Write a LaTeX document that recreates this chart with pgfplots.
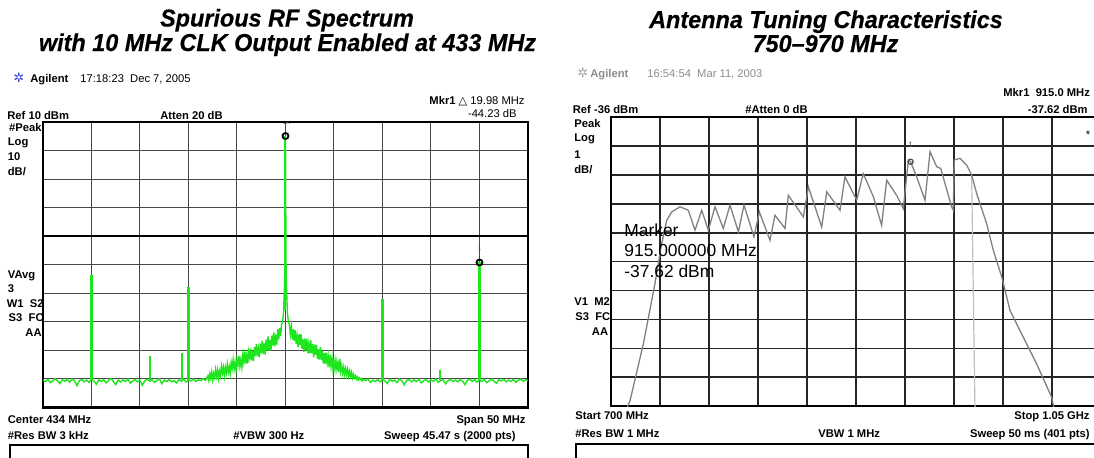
\documentclass[border=0pt]{standalone}
\usepackage{fontspec}
\setmainfont{Liberation Sans}
\newfontfamily\titlefont[FakeStretch=0.96, BoldItalicFeatures={FakeBold=0.4}]{Liberation Sans}
\newfontfamily\symfont{DejaVu Sans}
\usepackage{pgfplots}
\pgfplotsset{compat=1.18}
\definecolor{trace}{RGB}{30,230,30}
\definecolor{logoblue}{RGB}{60,70,220}
\newcommand\sm{\fontsize{5.6}{6.5}\selectfont}
\newcommand\lab[4][base west]{\node[anchor=#1, inner sep=0pt, font=\sm] at ({#2*0.5pt},{(457-#3)*0.5pt}) {#4};}
\newcommand\ttl[3]{\node[anchor=base, inner sep=0pt, font=\titlefont\fontsize{12.2}{14}\selectfont\bfseries\itshape] at ({#1*0.5pt},{(457-#2)*0.5pt}) {#3};}

\pgfplotstableread{
x y
409.00 -80.4
409.25 -80.9
409.50 -80.2
409.75 -81.3
410.00 -80.6
410.25 -79.9
410.50 -80.7
410.75 -81.6
411.00 -80.3
411.25 -80.8
411.50 -80.1
411.75 -81.1
412.00 -80.0
412.25 -80.6
412.50 -82.4
412.75 -80.5
413.00 -80.2
413.25 -81.0
413.50 -80.4
413.75 -81.2
414.00 -80.1
414.25 -80.7
414.50 -81.9
414.75 -80.3
415.00 -80.9
415.25 -80.2
415.50 -81.4
415.75 -80.6
416.00 -79.8
416.25 -80.8
416.50 -82.0
416.75 -80.4
417.00 -81.1
417.25 -80.3
417.50 -80.9
417.75 -80.0
418.00 -81.5
418.25 -80.7
418.50 -80.2
418.75 -81.0
419.00 -80.5
419.25 -82.2
419.50 -80.6
419.75 -80.1
420.00 -80.8
420.25 -80.3
420.50 -81.2
420.75 -80.5
421.00 -80.0
421.25 -81.7
421.50 -80.4
421.75 -80.9
422.00 -80.2
422.25 -81.0
422.50 -80.6
422.75 -81.4
423.00 -80.3
423.25 -80.8
423.50 -80.1
423.75 -81.1
424.00 -80.4
424.25 -80.7
424.50 -80.0
424.75 -80.9
425.00 -80.3
425.25 -80.6
425.50 -79.9
425.75 -80.5
426.0 -78.9
426.1 -80.6
426.2 -78.2
426.3 -79.8
426.4 -77.5
426.5 -80.3
426.6 -78.1
426.7 -79.5
426.8 -76.7
426.9 -79.1
427.0 -76.9
427.1 -79.7
427.2 -77.3
427.3 -78.9
427.4 -75.5
427.5 -77.9
427.6 -75.9
427.7 -79.0
427.8 -76.0
427.9 -77.8
428.0 -74.8
428.1 -77.7
428.2 -75.8
428.3 -78.1
428.4 -74.2
428.5 -76.3
428.6 -73.3
428.7 -76.7
428.8 -74.2
428.9 -76.8
429.0 -73.2
429.1 -75.2
429.2 -71.9
429.3 -75.6
429.4 -73.2
429.5 -75.9
429.6 -71.5
429.7 -74.1
429.8 -70.4
429.9 -74.6
430.0 -71.6
430.1 -74.6
430.2 -70.5
430.3 -72.6
430.4 -69.3
430.5 -73.5
430.6 -70.2
430.7 -73.7
430.8 -68.9
430.9 -71.9
431.0 -67.8
431.1 -72.1
431.2 -69.3
431.3 -72.4
431.4 -67.6
431.5 -70.9
431.6 -66.7
431.7 -71.3
431.8 -67.6
431.9 -71.5
432.0 -66.2
432.1 -69.9
432.2 -65.1
432.3 -70.2
432.4 -66.3
432.5 -70.0
432.6 -64.8
432.7 -68.3
432.8 -63.7
432.9 -68.6
433.0 -64.4
433.1 -68.0
433.2 -62.6
433.3 -66.2
433.4 -62.1
433.5 -65.0
433.6 -60.8
433.7 -60.2
433.8 -56.5
433.85 -52.0
433.9 -47.0
433.95 -38.0
434.0 5.1
434.05 -38.5
434.1 -47.5
434.15 -52.5
434.2 -56.8
434.3 -60.1
434.4 -61.0
434.5 -64.4
434.6 -61.7
434.7 -66.2
434.8 -62.5
434.9 -66.6
435.0 -62.9
435.1 -67.8
435.2 -64.9
435.3 -68.9
435.4 -64.2
435.5 -68.1
435.6 -64.3
435.7 -69.4
435.8 -66.0
435.9 -70.6
436.0 -65.8
436.1 -69.9
436.2 -65.9
436.3 -71.0
436.4 -67.8
436.5 -71.0
436.6 -66.4
436.7 -70.9
436.8 -67.7
436.9 -72.4
437.0 -67.9
437.1 -71.5
437.2 -68.1
437.3 -73.0
437.4 -69.6
437.5 -73.2
437.6 -68.9
437.7 -73.4
437.8 -70.2
437.9 -74.6
438.0 -71.0
438.1 -74.7
438.2 -70.8
438.3 -74.4
438.4 -71.9
438.5 -75.9
438.6 -71.6
438.7 -75.6
438.8 -72.8
438.9 -76.6
439.0 -73.8
439.1 -76.7
439.2 -73.4
439.3 -76.6
439.4 -74.4
439.5 -77.6
439.6 -73.0
439.7 -77.3
439.8 -75.3
439.9 -78.2
440.0 -76.0
440.1 -78.4
440.2 -76.3
440.3 -78.4
440.4 -76.6
440.5 -79.0
440.6 -77.3
440.7 -79.1
440.8 -77.6
440.9 -79.7
441.0 -78.4
441.1 -79.6
441.2 -78.9
441.3 -80.1
441.4 -79.3
441.5 -80.4
441.6 -79.6
441.7 -80.2
441.8 -79.8
441.9 -80.7
442.0 -80.1
442.25 -80.6
442.50 -80.0
442.75 -81.2
443.00 -80.4
443.25 -80.9
443.50 -80.2
443.75 -81.0
444.00 -80.3
444.25 -80.7
444.50 -81.6
444.75 -80.1
445.00 -80.8
445.25 -80.4
445.50 -81.3
445.75 -80.0
446.00 -80.6
446.25 -82.1
446.50 -80.5
446.75 -80.2
447.00 -81.0
447.25 -80.3
447.50 -80.9
447.75 -80.1
448.00 -81.4
448.25 -80.6
448.50 -80.2
448.75 -81.1
449.00 -80.4
449.25 -80.8
449.50 -80.0
449.75 -81.2
450.00 -80.5
450.25 -80.3
450.50 -81.7
450.75 -80.6
451.00 -80.1
451.25 -80.9
451.50 -80.4
451.75 -81.0
452.00 -80.2
452.25 -80.7
452.50 -82.0
452.75 -80.5
453.00 -80.1
453.25 -80.8
453.50 -80.3
453.75 -81.1
454.00 -80.4
454.25 -80.9
454.50 -80.2
454.75 -81.3
455.00 -80.6
455.25 -80.0
455.50 -80.8
455.75 -81.5
456.00 -80.3
456.25 -80.7
456.50 -80.1
456.75 -81.0
457.00 -80.4
457.25 -80.9
457.50 -80.2
457.75 -81.2
458.00 -80.5
458.25 -80.0
458.50 -80.8
458.75 -80.3
459.00 -80.6
}\spurious

\pgfplotstableread{
x y
711.0 -46.1
713.6 -45.82
723.1 -43.85
731.4 -41.76
736.2 -40.38
739.8 -39.57
743.3 -39.28
749.3 -39.10
755.2 -39.22
760.0 -39.91
764.8 -39.22
769.5 -39.91
774.3 -39.10
780.2 -39.85
785.0 -39.04
791.0 -39.97
795.0 -39.04
802.1 -40.14
806.0 -39.28
813.6 -40.26
817.1 -39.39
824.3 -39.85
826.7 -38.70
837.4 -39.45
841.0 -38.41
850.5 -39.80
854.1 -38.58
863.6 -39.22
867.1 -38.06
875.5 -38.87
880.2 -37.95
887.4 -38.75
893.3 -39.74
896.9 -38.18
904.0 -38.70
908.8 -39.16
912.4 -37.48
914.0 -37.54
918.3 -38.06
924.3 -38.87
927.9 -37.19
932.6 -37.71
935.5 -37.77
943.3 -39.10
944.5 -39.22
945.2 -37.48
949.3 -37.42
954.1 -37.66
957.6 -38.00
961.2 -38.64
968.3 -39.68
973.1 -40.61
979.1 -41.53
985.0 -42.69
994.5 -43.62
1004.0 -44.54
1014.8 -45.70
1016.5 -46.1
}\tuning

\begin{document}
\begin{tikzpicture}
\useasboundingbox (0,0) rectangle (547pt,228.5pt);
\clip (0,0) rectangle (547pt,228.5pt);

% ---------------- left panel ----------------
\ttl{287}{26.5}{Spurious RF Spectrum}
\ttl{287.5}{51}{with 10 MHz CLK Output Enabled at 433 MHz}

\node[anchor=base west, inner sep=0pt, font=\symfont\fontsize{6.5}{7}\selectfont, text=logoblue] at ({13*0.5pt},{(457-82)*0.5pt}) {✲};
\lab{30}{82}{\bfseries Agilent}
\lab{80}{82}{17:18:23\ \ Dec 7, 2005}
\lab[base east]{525}{104}{\bfseries Mkr1 \mdseries{\symfont△} 19.98 MHz}
\lab{7}{119}{\bfseries Ref 10 dBm}
\lab{160}{119}{\bfseries Atten 20 dB}
\lab[base east]{517}{117}{-44.23 dB}
\lab[base east]{42}{131.5}{\bfseries \#Peak}
\lab{7.5}{145.5}{\bfseries Log}
\lab{7.5}{160.5}{\bfseries 10}
\lab{7.5}{175}{\bfseries dB/}
\lab{7.5}{278}{\bfseries VAvg}
\lab{7.5}{292.5}{\bfseries 3}
\lab[base east]{44}{307}{\bfseries W1\ \ S2}
\lab[base east]{44}{321.5}{\bfseries S3\ \ FC}
\lab[base east]{42}{336}{\bfseries AA}
\lab{7.5}{423}{\bfseries Center 434 MHz}
\lab[base east]{526}{423}{\bfseries Span 50 MHz}
\lab{7.5}{439}{\bfseries \#Res BW 3 kHz}
\lab{233}{439}{\bfseries \#VBW 300 Hz}
\lab[base east]{516}{439}{\bfseries Sweep 45.47 s (2000 pts)}
\draw[black, line width=0.8pt] ({10*0.5pt},{(457-445)*0.5pt}) rectangle ({528*0.5pt},-10pt);

\begin{axis}[at={(21.5pt,24.75pt)}, anchor=south west, scale only axis,
  width=242.5pt, height=142.75pt,
  xmin=409, xmax=459, ymin=-90, ymax=10,
  xtick={409,414,...,459}, ytick={-90,-80,...,10},
  xticklabels={}, yticklabels={}, major tick length=0pt,
  grid=major, major grid style={black!72, line width=0.5pt},
  axis line style={black, line width=1.1pt}]
\addplot[black, line width=0.75pt] coordinates {(409,-30) (459,-30)};
\addplot[trace, line width=0.7pt] table {\spurious};
\addplot[trace, line width=1.15pt] coordinates {(414,-80.3) (414,-43.7)};
\addplot[trace, line width=1.0pt] coordinates {(420,-80.4) (420,-72.0)};
\addplot[trace, line width=1.0pt] coordinates {(423.3,-80.4) (423.3,-71.0)};
\addplot[trace, line width=1.15pt] coordinates {(424,-80.3) (424,-47.8)};
\addplot[trace, line width=1.15pt] coordinates {(444,-80.3) (444,-51.9)};
\addplot[trace, line width=1.0pt] coordinates {(449.9,-80.4) (449.9,-77.0)};
\addplot[trace, line width=1.15pt] coordinates {(454,-80.4) (454,-39.2)};
\addplot[trace, line width=1.0pt] coordinates {(434,-56) (434,5.1)};
\addplot[only marks, mark=o, mark size=1.5pt, black, line width=0.9pt] coordinates {(434,5.1) (454,-39.2)};
\node[font=\fontsize{3}{3}\selectfont, text=black!70, anchor=south] at (axis cs:434.1,6.5) {1R};
\node[font=\fontsize{3}{3}\selectfont, text=black!70, anchor=south] at (axis cs:454,-37.6) {1};
\end{axis}

% ---------------- right panel ----------------
\ttl{826}{28}{Antenna Tuning Characteristics}
\ttl{825.5}{52}{750–970 MHz}

\node[anchor=base west, inner sep=0pt, font=\symfont\fontsize{6.5}{7}\selectfont, text=black!35] at ({577*0.5pt},{(457-77)*0.5pt}) {✲};
\lab{590}{77}{\color{black!45}\bfseries Agilent}
\lab{647}{77}{\color{black!45}16:54:54\ \ Mar 11, 2003}
\lab{1003}{96}{\bfseries Mkr1\ \ 915.0 MHz}
\lab{572.5}{113}{\bfseries Ref -36 dBm}
\lab{745}{113}{\bfseries \#Atten 0 dB}
\lab[base east]{1088}{113}{\bfseries -37.62 dBm}
\lab{574}{127.3}{\bfseries Peak}
\lab{574}{141.7}{\bfseries Log}
\lab{574}{158}{\bfseries 1}
\lab{574}{173}{\bfseries dB/}
\lab{574}{305}{\bfseries V1\ \ M2}
\lab{575}{320.7}{\bfseries S3\ \ FC}
\lab[base east]{608.5}{335.7}{\bfseries AA}
\lab{575}{419.8}{\bfseries Start 700 MHz}
\lab[base east]{1090}{419.8}{\bfseries Stop 1.05 GHz}
\lab{575}{437}{\bfseries \#Res BW 1 MHz}
\lab{818}{437}{\bfseries VBW 1 MHz}
\lab[base east]{1090}{437}{\bfseries Sweep 50 ms (401 pts)}
\draw[black, line width=0.8pt] ({576*0.5pt},{(457-444)*0.5pt}) rectangle ({1110*0.5pt},-10pt);

\begin{axis}[at={(305.5pt,25.5pt)}, anchor=south west, scale only axis,
  width=245pt, height=144.35pt,
  xmin=700, xmax=1050, ymin=-46, ymax=-36,
  xtick={700,735,...,1050}, ytick={-46,-45,...,-36},
  xticklabels={}, yticklabels={}, major tick length=0pt,
  grid=major, major grid style={black!85, line width=0.75pt},
  axis line style={black, line width=1.1pt}]
\addplot[black!25, line width=0.6pt] coordinates {(957.6,-38.0) (960.0,-46.2)};
\addplot[black!50, line width=0.65pt] table {\tuning};
\addplot[only marks, mark=o, mark size=1.3pt, black!70, line width=0.6pt] coordinates {(914,-37.54)};
\node[font=\fontsize{4}{4}\selectfont, text=black!70, anchor=south] at (axis cs:914,-37.3) {1};
\node[font=\sm, anchor=center] at (axis cs:1040.7,-36.6) {*};
\end{axis}

\node[anchor=base west, inner sep=0pt, font=\fontsize{8.7}{10}\selectfont] at ({624*0.5pt},{(457-236)*0.5pt}) {Marker};
\node[anchor=base west, inner sep=0pt, font=\fontsize{8.7}{10}\selectfont] at ({624*0.5pt},{(457-256.7)*0.5pt}) {915.000000 MHz};
\node[anchor=base west, inner sep=0pt, font=\fontsize{8.7}{10}\selectfont] at ({624*0.5pt},{(457-277.3)*0.5pt}) {-37.62 dBm};
\end{tikzpicture}
\end{document}
